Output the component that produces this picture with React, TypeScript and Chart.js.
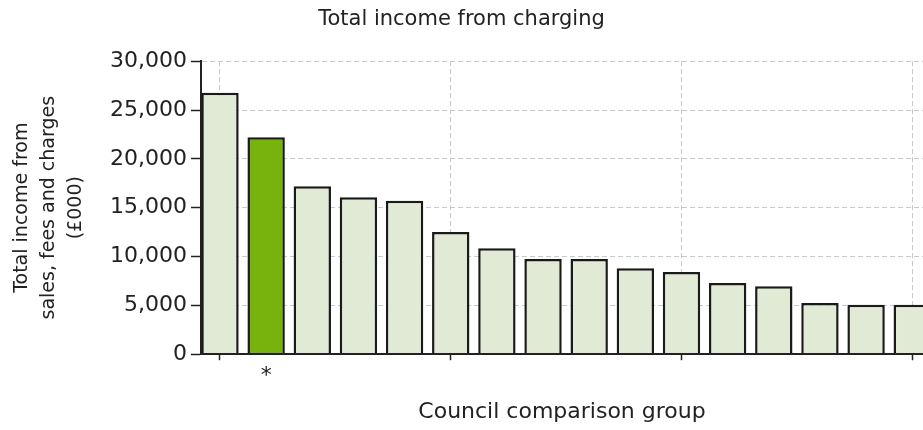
import React, { useEffect, useRef } from 'react';
import { Chart, registerables } from 'chart.js';

Chart.register(...registerables);

// ---- data ----
const categories: string[] = ['', '*', '', '', '', '', '', '', '', '', '', '', '', '', '', ''];
const values: number[] = [26760, 22210, 17190, 16070, 15700, 12520, 10840, 9750, 9750, 8790, 8420, 7300, 6950, 5250, 5070, 5070];
const highlighted: number[] = [1];
const yTicks: number[] = [0, 5000, 10000, 15000, 20000, 25000, 30000];
const xGridEvery = 5;
const chartTitle = 'Total income from charging';
const yTitle: string[] = ['Total income from', 'sales, fees and charges', '(£000)'];
const xTitle = 'Council comparison group';

// ---- styles ----
const FONT = '"DejaVu Sans", Verdana, sans-serif';
const PALE = '#e1ead5';
const GREEN = '#77b30c';
const EDGE = '#1a1a1a';
const GRID = '#c2cad2';
const AXIS = '#222222';
const TEXT = '#222222';
const NONE = 'rgba(0,0,0,0)';

export default function App() {
  const ref = useRef<HTMLCanvasElement | null>(null);

  useEffect(() => {
    if (!ref.current) return;
    const isGridTick = (ctx: any) => ctx.tick && ctx.tick.value % xGridEvery === 0;
    const chart = new Chart(ref.current, {
      type: 'bar',
      data: {
        datasets: [
          {
            data: values.map((v, i) => ({ x: i, y: v })),
            backgroundColor: values.map((_, i) => (highlighted.includes(i) ? GREEN : PALE)),
            borderColor: EDGE,
            borderWidth: 2.5,
            barPercentage: 0.81,
            categoryPercentage: 1,
          },
        ],
      },
      options: {
        animation: false,
        responsive: true,
        maintainAspectRatio: false,
        layout: { padding: { left: 0, right: 0, top: 0, bottom: 0 } },
        plugins: {
          legend: { display: false },
          tooltip: { enabled: false },
          title: {
            display: true,
            text: chartTitle,
            color: TEXT,
            font: { family: FONT, size: 21, weight: 'normal' },
            padding: { top: 7, bottom: 29 },
          },
        },
        scales: {
          x: {
            type: 'linear',
            min: -0.412,
            max: 15.233,
            offset: false,
            afterBuildTicks: (s: any) => {
              s.ticks = categories
                .map((_, i) => i)
                .filter((i) => i % xGridEvery === 0 || categories[i] !== '')
                .map((v) => ({ value: v }));
            },
            ticks: {
              autoSkip: false,
              maxRotation: 0,
              padding: 3,
              color: TEXT,
              font: { family: FONT, size: 22 },
              callback: (v: any) => categories[v as number] ?? '',
            },
            grid: {
              offset: false,
              color: (ctx: any) => (isGridTick(ctx) ? GRID : NONE),
              tickColor: (ctx: any) => (isGridTick(ctx) ? AXIS : NONE),
              tickLength: 6,
              tickWidth: 1.5,
              tickBorderDash: [],
              lineWidth: 1,
            },
            border: { display: true, color: AXIS, width: 2, dash: [5, 3], z: 1 },
            title: {
              display: true,
              text: xTitle,
              color: TEXT,
              font: { family: FONT, size: 22 },
              padding: { top: 6, bottom: 5 },
            },
          },
          y: {
            min: 0,
            max: 30000,
            afterBuildTicks: (s: any) => {
              s.ticks = yTicks.map((v) => ({ value: v }));
            },
            ticks: {
              padding: 4,
              color: TEXT,
              font: { family: FONT, size: 22 },
              callback: (v: any) => Number(v).toLocaleString('en-US'),
            },
            grid: {
              color: GRID,
              tickColor: AXIS,
              tickLength: 10,
              tickWidth: 1.5,
              tickBorderDash: [],
              lineWidth: 1,
            },
            border: { display: true, color: AXIS, width: 2, dash: [5, 3] },
            title: {
              display: true,
              text: yTitle,
              color: TEXT,
              font: { family: FONT, size: 19, lineHeight: 27 / 19 },
              padding: { top: 9, bottom: 16 },
            },
          },
        },
      } as any,
    });
    return () => chart.destroy();
  }, []);

  return (
    <div style={{ position: 'absolute', left: 0, top: 0, width: 923, height: 430, background: '#fff' }}>
      <canvas ref={ref} />
    </div>
  );
}
